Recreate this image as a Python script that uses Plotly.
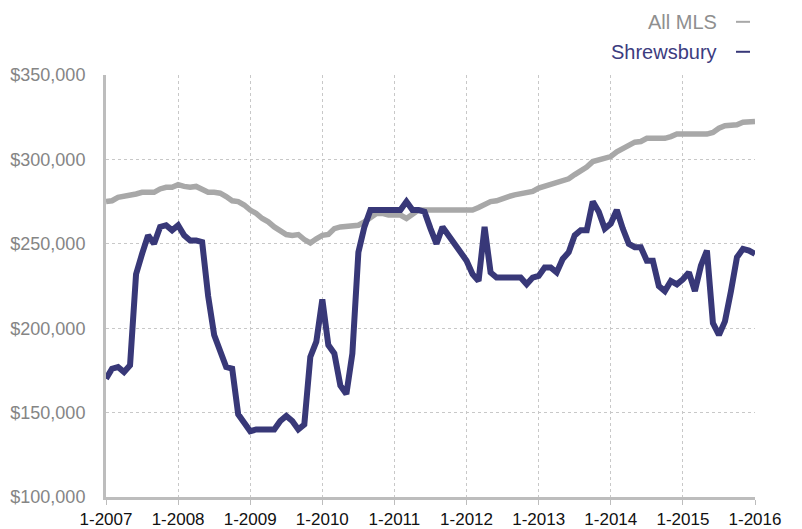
import plotly.graph_objects as go

# Monthly median price, Jan 2007 .. Jan 2016 (109 months)
years = list(range(2007, 2017))
tick_labels = [f"1-{y}" for y in years]

shrewsbury = [
    170, 176, 177, 174, 178, 232, 244, 255, 250, 260, 261, 258,   # 2007
    261, 255, 252, 252, 251, 219, 196, 186, 177, 176, 149, 144,   # 2008
    139, 140, 140, 140, 140, 145, 148, 145, 140, 143, 183, 192,   # 2009
    217, 190, 185, 166, 161, 185, 245, 260, 270, 270, 270, 270,   # 2010
    270, 270, 275, 270, 270, 269, 259, 250, 260, 255, 250, 245,   # 2011
    240, 232, 228, 260, 233, 230, 230, 230, 230, 230, 226, 230,   # 2012
    231, 236, 236, 233, 241, 245, 255, 258, 258, 275, 269, 259,   # 2013
    262, 270, 259, 250, 248, 248, 240, 240, 225, 222, 228, 226,   # 2014
    229, 233, 222, 237, 246, 203, 196, 204, 222, 242, 247, 246,   # 2015
    244,                                                          # 2016
]

all_mls = [
    275, 275.5, 277.5, 278, 278.5, 279.5, 280.5, 280.5, 280.5, 282.5, 283.5, 283.5,  # 2007
    285, 284, 283.5, 284, 282.5, 280.5, 280.5, 280, 278, 275.5, 275, 273,            # 2008
    270, 268, 265, 263, 260, 258, 255.5, 255, 255.5, 252.5, 250.5, 253,              # 2009
    255, 255.5, 259, 260, 260.5, 260.5, 261, 263, 266, 268, 268, 267,                # 2010
    267, 267, 265, 268, 270, 270, 270, 270, 270, 270, 270, 270,                      # 2011
    270, 270, 271.5, 273.5, 275, 275.5, 277, 278, 279, 279.5, 280, 281,              # 2012
    283, 284, 285, 286.5, 286.8, 288.5, 291, 293, 295.5, 298.7, 299.5, 300.5,        # 2013
    301.7, 304.5, 306.5, 308.5, 310.2, 310.6, 312.5, 312.5, 312.5, 312.5, 313.5, 315,  # 2014
    315, 315, 315, 315, 315, 316, 318.5, 320, 320, 320.5, 322, 322.4,                # 2015
    322.4,                                                                           # 2016
]

months = list(range(len(shrewsbury)))
tick_vals = [12 * i for i in range(len(years))]

BLUE = "#383878"
GRAY = "#a8a8a8"

fig = go.Figure()
fig.add_trace(go.Scatter(x=months, y=[v * 1000 for v in all_mls], mode="lines",
                         name="All MLS", line=dict(color=GRAY, width=5.5)))
fig.add_trace(go.Scatter(x=months, y=[v * 1000 for v in shrewsbury], mode="lines",
                         name="Shrewsbury", line=dict(color=BLUE, width=6)))

# the page body adds an 8px margin, so the figure is 8px smaller on each axis
fig.update_layout(
    width=794, height=521,
    margin=dict(l=98, r=47, t=67, b=32, autoexpand=False),
    paper_bgcolor="white", plot_bgcolor="white",
    showlegend=False,
    font=dict(family="Liberation Sans, Arial, sans-serif"),
)
fig.update_xaxes(
    range=[0, 108], tickvals=tick_vals, ticktext=tick_labels, automargin=False,
    showgrid=True, gridcolor="#c8c8c8", griddash="dot", gridwidth=1,
    showline=True, linecolor="#bdbdbd", linewidth=3,
    ticks="outside", ticklen=5, tickcolor="#bdbdbd", tickwidth=1,
    tickfont=dict(size=17, color="#111111"), zeroline=False,
)
fig.update_yaxes(
    range=[100000, 350000], dtick=50000, tickformat="$,.0f", automargin=False,
    showgrid=True, gridcolor="#c8c8c8", griddash="dot", gridwidth=1,
    showline=True, linecolor="#bdbdbd", linewidth=3,
    ticks="", ticklabelstandoff=14,
    tickfont=dict(size=18, color="#858585"), zeroline=False,
)

# legend drawn as right-aligned text followed by a short dash
legend_items = [("All MLS", "#8f8f8f", GRAY, 1.126), ("Shrewsbury", "#3c3c80", BLUE, 1.055)]
for name, tcol, lcol, yy in legend_items:
    fig.add_annotation(xref="paper", yref="paper", x=0.9445, y=yy, text=name,
                       showarrow=False, xanchor="right", yanchor="middle",
                       font=dict(size=20, color=tcol))
    fig.add_shape(type="line", xref="paper", yref="paper", x0=0.9707, x1=0.9923,
                  y0=yy, y1=yy, line=dict(color=lcol, width=2))

fig.write_html("out.html")
